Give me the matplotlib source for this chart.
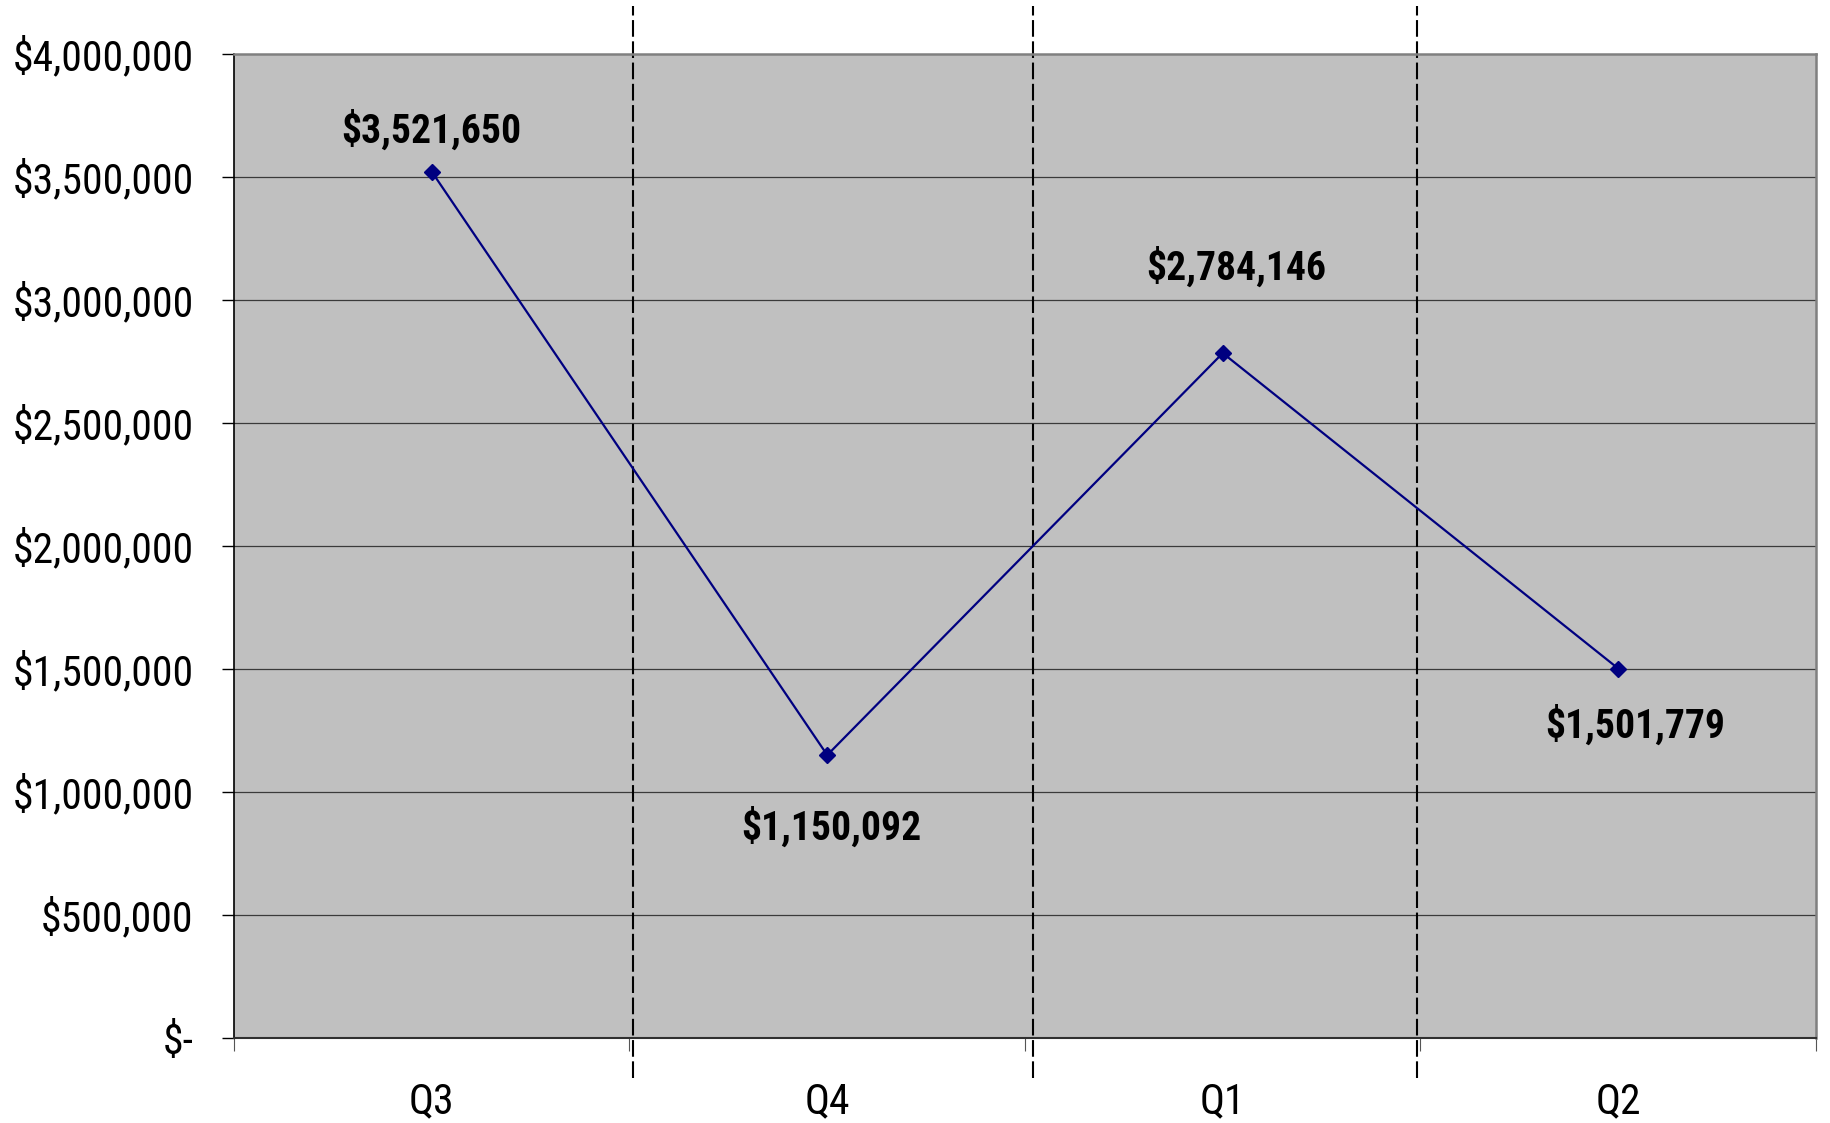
import matplotlib
matplotlib.use("Agg")
import matplotlib.pyplot as plt
from matplotlib.ticker import FixedLocator, FuncFormatter

# quarterly totals
quarters = ["Q3", "Q4", "Q1", "Q2"]
totals = [3521650, 1150092, 2784146, 1501779]
y_ticks = [0, 500000, 1000000, 1500000, 2000000, 2500000, 3000000, 3500000, 4000000]

# label offsets (points) for each data label
label_offsets = [(0, 30), (3, -52), (10, 62), (12, -41)]

plt.rcParams['font.family'] = ['Roboto Condensed', 'Liberation Sans', 'DejaVu Sans']

fig = plt.figure(figsize=(18.31, 11.23), dpi=100)
ax = fig.add_axes([234 / 1831, 85 / 1123, 1582 / 1831, 984 / 1123])
ax.set_facecolor('#c0c0c0')

x = list(range(len(quarters)))
ax.set_xlim(-0.5, len(quarters) - 0.5)
ax.set_ylim(0, 4000000)

# horizontal grid
for v in y_ticks[1:-1]:
    ax.axhline(v, color='#3a3a3a', lw=0.9, zorder=1)

# dashed dividers between quarters (run past the plot area)
for d in [0.51, 1.52, 2.49]:
    ax.axvline(d, ymin=-0.041, ymax=1.049, color='black', lw=1.5,
               dashes=(8, 2.2), clip_on=False, zorder=2)

ax.plot(x, totals, color='#000080', lw=1.6, marker='D', ms=8.5, zorder=4)

for i, v in enumerate(totals):
    ax.annotate("${:,}".format(v), (x[i], v), xytext=label_offsets[i],
                textcoords='offset points', ha='center', va='center',
                fontsize=28.5, fontweight='bold', zorder=5)

# y axis
ax.yaxis.set_major_locator(FixedLocator(y_ticks))
ax.yaxis.set_major_formatter(FuncFormatter(lambda v, p: "$-" if v == 0 else "${:,.0f}".format(v)))
ax.tick_params(axis='y', length=9, width=1, color='black', pad=20, labelsize=30)

# x axis: ticks at boundaries, labels at centres
ax.xaxis.set_major_locator(FixedLocator([-0.5, 0.5, 1.5, 2.5, 3.5]))
ax.xaxis.set_major_formatter(FuncFormatter(lambda v, p: ""))
ax.xaxis.set_minor_locator(FixedLocator(x))
ax.set_xticklabels(quarters, minor=True)
ax.tick_params(axis='x', which='major', length=9, width=0.8, color='#555555')
ax.tick_params(axis='x', which='minor', length=0, pad=31, labelsize=30)

ax.spines['left'].set_color('black')
ax.spines['left'].set_linewidth(1.2)
ax.spines['bottom'].set_color('#303030')
ax.spines['bottom'].set_linewidth(1.5)
ax.spines['top'].set_color('#808080')
ax.spines['top'].set_linewidth(1.8)
ax.spines['right'].set_color('#808080')
ax.spines['right'].set_linewidth(1.8)

fig.savefig('out.png', dpi=100)
